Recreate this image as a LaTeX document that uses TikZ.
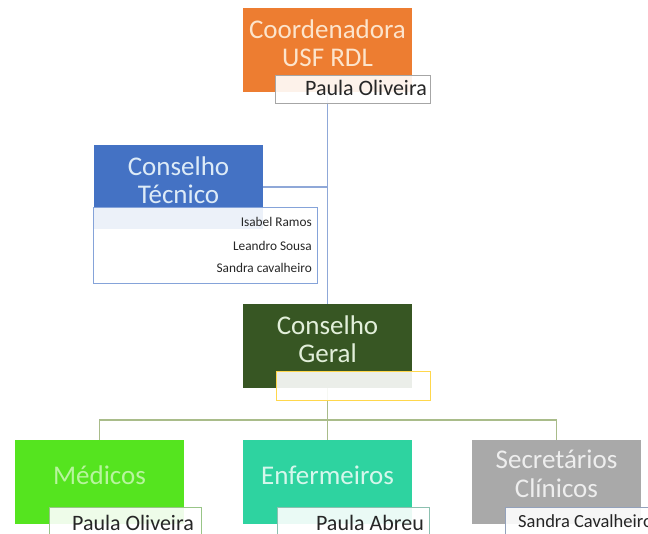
\documentclass[tikz,border=0pt]{standalone}
\usepackage{fontspec}
\setmainfont{Carlito}
\definecolor{orgOrange}{HTML}{ED7D31}
\definecolor{orgOrangeTxt}{HTML}{FCE4CC}
\definecolor{orgBlue}{HTML}{4472C4}
\definecolor{orgBlueTxt}{HTML}{DDEBF7}
\definecolor{orgDark}{HTML}{375623}
\definecolor{orgDarkTxt}{HTML}{E2EFDA}
\definecolor{orgLime}{HTML}{55E41F}
\definecolor{orgLimeTxt}{HTML}{B8F59E}
\definecolor{orgTeal}{HTML}{2ED3A0}
\definecolor{orgTealTxt}{HTML}{D6F7EC}
\definecolor{orgGray}{HTML}{A9A9A9}
\definecolor{orgGrayTxt}{HTML}{EEEEEE}
\definecolor{upLine}{HTML}{8FA8D8}
\definecolor{downLine}{HTML}{A9BC8A}
\definecolor{nameTxt}{HTML}{262626}
\begin{document}
\begin{tikzpicture}[x=1pt,y=-1pt,
  unitbox/.style={rectangle, inner sep=0pt, outer sep=0pt, anchor=north west,
    minimum width=169pt, minimum height=84pt},
  unittitle/.style={font=\fontsize{27}{28.5}\selectfont, align=center, inner sep=0pt},
  namebox/.style={rectangle, draw, line width=0.9pt, fill=white, fill opacity=0.9,
    inner sep=0pt, outer sep=0pt, anchor=north west, minimum height=28pt},
  nametext/.style={font=\fontsize{22}{24}\selectfont, text=nameTxt, inner sep=0pt},
  membertext/.style={font=\fontsize{13.3}{15}\selectfont, text=nameTxt, inner sep=0pt, anchor=base east},
  upconn/.style={draw=upLine, line width=1.4pt},
  downconn/.style={draw=downLine, line width=1.4pt}]

\useasboundingbox (0,0) rectangle (648,533);
\clip (0,0) rectangle (648,533);

% unit boxes
\node[unitbox, fill=orgOrange] (coord) at (243,8) {};
\node[unitbox, fill=orgBlue] (tecnico) at (94,145) {};
\node[unitbox, fill=orgDark] (geral) at (243,304) {};
\node[unitbox, fill=orgLime] (medicos) at (15,440) {};
\node[unitbox, fill=orgTeal] (enf) at (243,440) {};
\node[unitbox, fill=orgGray] (sec) at (472,440) {};

% connectors
\coordinate (bus) at (327.5,420);
\draw[upconn] (coord.south) -- (geral.north);
\draw[upconn] (tecnico.east) -- (tecnico.east -| coord.south);
\draw[downconn] (geral.south) -- (geral.south |- bus);
\draw[downconn] (medicos.north) -- (medicos.north |- bus) -| (sec.north);
\draw[downconn] (enf.north) -- (enf.north |- bus);

% unit titles
\node[unittitle, text=orgOrangeTxt] (coordT) at ([yshift=-35pt]coord.north) {Coordenadora\\USF RDL};
\node[unittitle, text=orgBlueTxt] (tecnicoT) at ([yshift=-35pt]tecnico.north) {Conselho\\Técnico};
\node[unittitle, text=orgDarkTxt] (geralT) at ([yshift=-35pt]geral.north) {Conselho\\Geral};
\node[unittitle, text=orgLimeTxt] (medicosT) at ([yshift=-35pt]medicos.north) {Médicos};
\node[unittitle, text=orgTealTxt] (enfT) at ([yshift=-35pt]enf.north) {Enfermeiros};
\node[unittitle, text=orgGrayTxt] (secT) at ([yshift=-34pt]sec.north) {Secretários\\Clínicos};

% name boxes
\node[namebox, draw=gray!70, minimum width=155pt] (coordN) at (275,75) {};
\node[namebox, draw=orgBlue!65, minimum width=224pt, minimum height=76pt] (tecnicoN) at (93,207) {};
\node[namebox, draw=orange!45!yellow!70, minimum width=154pt, minimum height=29pt] (geralN) at (276,371) {};
\node[namebox, draw=orgLime!45!gray!70, minimum width=152pt, minimum height=40pt] (medicosN) at (49,507) {};
\node[namebox, draw=orgTeal!45!gray!70, minimum width=152pt, minimum height=40pt] (enfN) at (277,507) {};
\node[namebox, draw=orgBlue!45!gray!70, minimum width=160pt, minimum height=40pt] (secN) at (505,507) {};

% names
\node[nametext, anchor=base east] (coordP) at (427,95) {Paula Oliveira};
\node[membertext] (m1) at (312,226) {Isabel Ramos};
\node[membertext] (m2) at (312,250) {Leandro Sousa};
\node[membertext] (m3) at (312,272) {Sandra cavalheiro};
\node[nametext, anchor=base east] (medicosP) at (194,530) {Paula Oliveira};
\node[nametext, anchor=base east] (enfP) at (424,530) {Paula Abreu};
\node[nametext, font=\fontsize{18.5}{20}\selectfont, anchor=base west] (secP) at (518,527) {Sandra Cavalheiro};
\end{tikzpicture}
\end{document}
